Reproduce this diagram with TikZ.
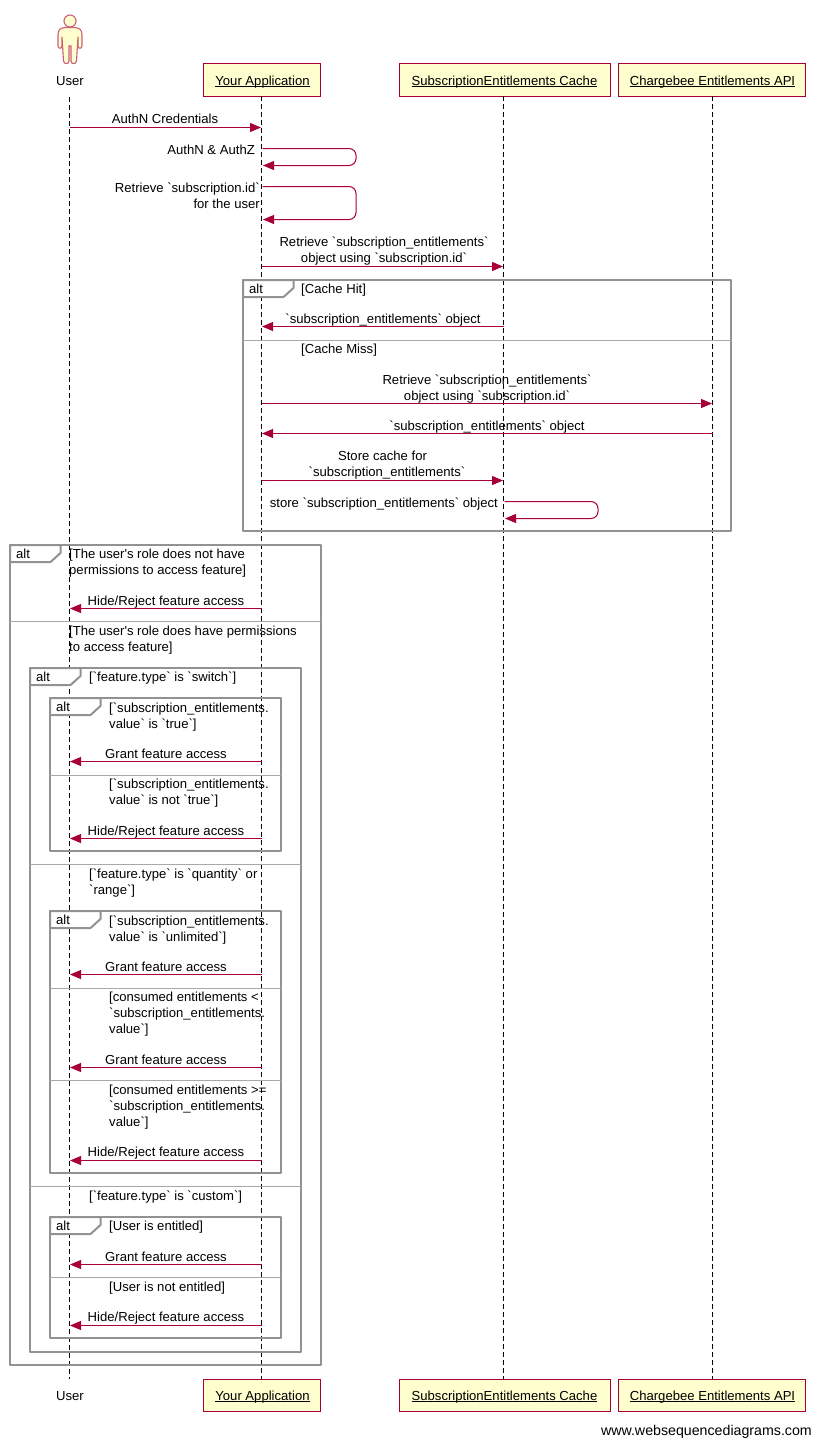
\documentclass[tikz,border=0pt]{standalone}
\usepackage{fontspec}
\usetikzlibrary{arrows.meta}
\newfontfamily\wsd{Liberation Sans}
\definecolor{wred}{HTML}{A80036}
\definecolor{wfill}{HTML}{FEFECE}
\definecolor{wgray}{HTML}{929292}
\definecolor{wsep}{HTML}{A8A8A8}
\definecolor{wpink}{HTML}{CC5F78}
\newcommand\ultxt[2][0pt]{\hspace*{#1}\setbox0\hbox{#2}\rlap{\rule[-2pt]{\wd0}{0.9pt}}\box0}
\tikzset{
  txt/.style={font=\wsd\fontsize{13.1}{16}\selectfont,inner sep=0pt,text=black},
  ltxt/.style={txt,anchor=base west,align=left},
  rtxt/.style={txt,anchor=base east,align=right},
  ctxt/.style={txt,anchor=base,align=center},
  headbox/.style={draw=wred,fill=wfill,line width=1pt,txt,minimum height=32pt,inner sep=0pt,text height=13pt,text depth=3pt},
  life/.style={draw=black,line width=1pt,dash pattern=on 5pt off 3pt},
  msgline/.style={draw=wred,line width=1pt,-{Triangle[length=11pt,width=9pt]},shorten >=0.5pt},
  frameline/.style={draw=wgray,line width=2pt,line join=round},
  sepline/.style={draw=wsep,line width=1pt},
  actor/.style={draw=wpink,fill=wfill,line width=1.1pt},
}
\newcommand\msgto[5][]{% name, from, to, y
  \coordinate (#2a) at (#3 |- 0,#5);
  \coordinate (#2b) at (#4 |- 0,#5);
  \draw[msgline,#1] (#2a) -- (#2b);}
\newcommand\selfmsg[5]{% name, life, right x, y1, y2
  \coordinate (#1a) at (#2 |- 0,#4);
  \coordinate (#1b) at (#2 |- 0,#5);
  \draw[msgline,rounded corners=7pt] ([xshift=1pt]#1a) -- (#3,#4) -- (#3,#5) -- ([xshift=1pt]#1b);}
\newcommand\altframe[5]{% name, x1, y1, x2, y2
  \draw[frameline] (#2,#3) rectangle (#4,#5);
  \draw[frameline,fill=white] (#2,#3) -- ({#2+50.5},#3) -- ({#2+50.5},{#3+8}) -- ({#2+40.5},{#3+17}) -- (#2,{#3+17}) -- cycle;
  \node[ltxt] (#1) at ({#2+6},{#3+13}) {alt};}
\newcommand\sepat[2]{% frame x1,x2 via y
  \draw[sepline] #1 -- #2;}
\begin{document}
\begin{tikzpicture}[x=1pt,y=-1pt]
\useasboundingbox (0,0) rectangle (820,1445);
\fill[white] (0,0) rectangle (820,1445);
% heads
\node[headbox,minimum width=117pt] (apph) at (261.5,80) {\ultxt[2pt]{Your Application}};
\node[headbox,minimum width=211pt] (cacheh) at (504.5,80) {\ultxt{SubscriptionEntitlements Cache}};
\node[headbox,minimum width=187pt] (apih) at (711.5,80) {\ultxt[2pt]{Chargebee Entitlements API}};
\node[headbox,minimum width=117pt] (appf) at (261.5,1395) {\ultxt[2pt]{Your Application}};
\node[headbox,minimum width=211pt] (cachef) at (504.5,1395) {\ultxt{SubscriptionEntitlements Cache}};
\node[headbox,minimum width=187pt] (apif) at (711.5,1395) {\ultxt[2pt]{Chargebee Entitlements API}};
\node[ctxt] (userh) at (70,85) {User};
\node[ctxt] (userf) at (70,1400) {User};
% lifelines
\coordinate (lu) at (69.5,97);
\coordinate (lub) at (69.5,1379);
\coordinate (la) at (261.5,96);
\coordinate (lab) at (261.5,1379);
\coordinate (lc) at (503.5,96);
\coordinate (lcb) at (503.5,1379);
\coordinate (li) at (712.5,96);
\coordinate (lib) at (712.5,1379);
\draw[life] (lu) -- (lub);
\draw[life] (la) -- (lab);
\draw[life] (lc) -- (lcb);
\draw[life] (li) -- (lib);
% actor
\draw[actor] (70,21) circle (6pt);
\draw[actor] (65,27.5) .. controls (60,28) and (58,30) .. (58,35) -- (58,46) .. controls (58,49) and (62,49) .. (62,46) -- (62,37) -- (63.5,61) .. controls (64,64.5) and (69,64.5) .. (69,61) -- (69,46) -- (71,46) -- (71,61) .. controls (71,64.5) and (76,64.5) .. (76.5,61) -- (78,37) -- (78,46) .. controls (78,49) and (82,49) .. (82,46) -- (82,35) .. controls (82,30) and (80,28) .. (75,27.5) -- cycle;
% frames
\altframe{f1}{243}{280}{731}{531}
\altframe{f2}{10}{545}{321}{1365}
\altframe{f3}{30}{668}{301}{1352}
\altframe{f4}{50}{698}{281}{851}
\altframe{f5}{50}{911}{281}{1173}
\altframe{f6}{50}{1217}{281}{1338}
\sepat{(243,340)}{(731,340)}
\sepat{(10,621.5)}{(321,621.5)}
\sepat{(30,864.5)}{(301,864.5)}
\sepat{(30,1186.5)}{(301,1186.5)}
\sepat{(50,775)}{(281,775)}
\sepat{(50,988)}{(281,988)}
\sepat{(50,1080)}{(281,1080)}
\sepat{(50,1277.5)}{(281,1277.5)}
% messages
\msgto{m1}{lu}{la}{127.5}
\node[ctxt] (t1) at (165,123) {AuthN Credentials};
\selfmsg{m2}{la}{356}{148.5}{165.5}
\node[rtxt] (t2) at (255,154) {AuthN \& AuthZ};
\selfmsg{m3}{la}{356}{186.5}{219.5}
\node[rtxt] (t3) at (260,208) {Retrieve `subscription.id`\\for the user};
\msgto{m4}{la}{lc}{266.5}
\node[ctxt] (t4) at (384,262) {Retrieve `subscription\_entitlements`\\object using `subscription.id`};
\node[ltxt] (g1) at (301,293) {[Cache Hit]};
\msgto{m5}{lc}{la}{326.5}
\node[ctxt] (t5) at (383,323) {`subscription\_entitlements` object};
\node[ltxt] (g2) at (301,353) {[Cache Miss]};
\msgto{m6}{la}{li}{403.5}
\node[ctxt] (t6) at (487,400) {Retrieve `subscription\_entitlements`\\object using `subscription.id`};
\msgto{m7}{li}{la}{433.5}
\node[ctxt] (t7) at (487,430) {`subscription\_entitlements` object};
\msgto{m8}{la}{lc}{480.5}
\node[ctxt] (t8) at (387,476) {Store cache for\hspace*{9pt}\\`subscription\_entitlements`};
\selfmsg{m9}{lc}{598}{501.5}{518.5}
\node[rtxt] (t9) at (498,507) {store `subscription\_entitlements` object};
\node[ltxt] (g3) at (69,574) {[The user's role does not have\\permissions to access feature]};
\msgto{m10}{la}{lu}{608.5}
\node[ctxt] (t10) at (166,605) {Hide/Reject feature access};
\node[ltxt] (g4) at (69,651) {[The user's role does have permissions\\to access feature]};
\node[ltxt] (g5) at (89,681) {[`feature.type` is `switch`]};
\node[ltxt] (g6) at (109,728) {[`subscription\_entitlements.\\value` is `true`]};
\msgto{m11}{la}{lu}{761.5}
\node[ctxt] (t11) at (166,758) {Grant feature access};
\node[ltxt] (g7) at (109,804) {[`subscription\_entitlements.\\value` is not `true`]};
\msgto{m12}{la}{lu}{838.5}
\node[ctxt] (t12) at (166,835) {Hide/Reject feature access};
\node[ltxt] (g8) at (89,894) {[`feature.type` is `quantity` or\\`range`]};
\node[ltxt] (g9) at (109,941) {[`subscription\_entitlements.\\value` is `unlimited`]};
\msgto{m13}{la}{lu}{974.5}
\node[ctxt] (t13) at (166,971) {Grant feature access};
\node[ltxt] (g10) at (109,1033) {[consumed entitlements <\\`subscription\_entitlements.\\value`]};
\msgto{m14}{la}{lu}{1067.5}
\node[ctxt] (t14) at (166,1064) {Grant feature access};
\node[ltxt] (g11) at (109,1126) {[consumed entitlements >=\\`subscription\_entitlements.\\value`]};
\msgto{m15}{la}{lu}{1160.5}
\node[ctxt] (t15) at (166,1156) {Hide/Reject feature access};
\node[ltxt] (g12) at (89,1200) {[`feature.type` is `custom`]};
\node[ltxt] (g13) at (109,1230) {[User is entitled]};
\msgto{m16}{la}{lu}{1264.5}
\node[ctxt] (t16) at (166,1261) {Grant feature access};
\node[ltxt] (g14) at (109,1291) {[User is not entitled]};
\msgto{m17}{la}{lu}{1325.5}
\node[ctxt] (t17) at (166,1321) {Hide/Reject feature access};
\node[txt,anchor=base east,font=\wsd\fontsize{14.2}{16}\selectfont] (wm) at (812,1435) {www.websequencediagrams.com};
\end{tikzpicture}
\end{document}
